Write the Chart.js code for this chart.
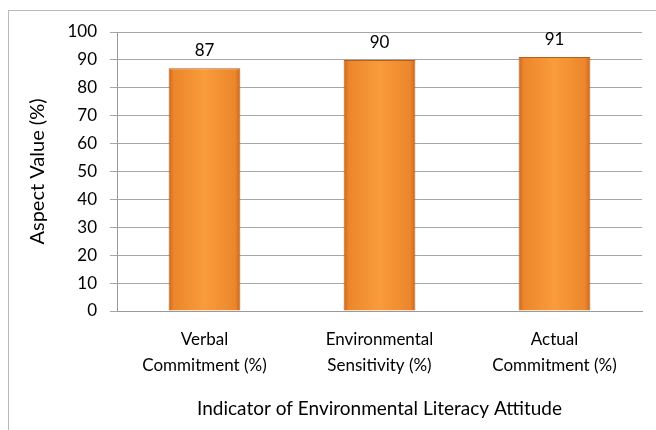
<!DOCTYPE html>
<html>
<head>
<meta charset="utf-8">
<script src="https://cdn.jsdelivr.net/npm/chart.js@4/dist/chart.umd.min.js"></script>
<style>
  html, body { margin: 0; padding: 0; background: #fff; }
  #wrap { position: relative; width: 656px; height: 430px; }
  #frame { position: absolute; left: 8px; top: 10px; width: 660px; height: 430px;
           border-left: 1px solid #b8b8b8; border-top: 1px solid #b8b8b8; }
  canvas { position: absolute; left: 0; top: 0; }
</style>
</head>
<body>
<div id="wrap">
  <div id="frame"></div>
  <canvas id="aspectChart" width="656" height="430"></canvas>
</div>
<script>
const categories = [
    ['Verbal', 'Commitment (%)'],
    ['Environmental', 'Sensitivity (%)'],
    ['Actual', 'Commitment (%)']
]
const values = [87, 90, 91]
const yTicks = [0, 10, 20, 30, 40, 50, 60, 70, 80, 90, 100]

const FONT = 'Lato, "Open Sans", sans-serif'
const barPct = 0.41

// orange bar, darker at the edges
function barFill(ctx) {
    const chart = ctx.chart
    const xs = chart.scales.x
    if (!xs || !chart.chartArea) return '#F7962E'
    const cx = xs.getPixelForValue(ctx.dataIndex)
    const w = (xs.width / categories.length) * barPct
    const g = chart.ctx.createLinearGradient(cx - w / 2, 0, cx + w / 2, 0)
    g.addColorStop(0, '#C9671C')
    g.addColorStop(0.07, '#EC862C')
    g.addColorStop(0.5, '#F99C3A')
    g.addColorStop(0.93, '#EC862C')
    g.addColorStop(1, '#C9671C')
    return g
}

const valueLabels = {
    id: 'valueLabels',
    afterDatasetsDraw(chart) {
        const c = chart.ctx
        const meta = chart.getDatasetMeta(0)
        c.save()
        c.font = '17px ' + FONT
        c.fillStyle = '#000'
        c.textAlign = 'center'
        c.textBaseline = 'bottom'
        meta.data.forEach((bar, i) => {
            c.fillText(values[i], bar.x, bar.y - 9)
        })
        c.restore()
    }
}

const ctx = document.getElementById('aspectChart').getContext('2d')
const aspectChart = new Chart(ctx, {
    type: 'bar',
    data: {
        labels: categories,
        datasets: [{
            data: values,
            backgroundColor: barFill,
            borderColor: '#B85E18',
            borderWidth: 1,
            categoryPercentage: 1,
            barPercentage: barPct
        }]
    },
    options: {
        responsive: false,
        animation: false,
        layout: {
            padding: { left: 0, right: 14, top: 32, bottom: 0 }
        },
        plugins: {
            legend: { display: false },
            tooltip: { enabled: false }
        },
        scales: {
            x: {
                grid: { display: false },
                border: { display: true, color: '#9a9a9a', width: 1 },
                ticks: {
                    color: '#000',
                    padding: 8,
                    font: { family: FONT, size: 17, lineHeight: 1.5 }
                },
                title: {
                    display: true,
                    text: 'Indicator of Environmental Literacy Attitude',
                    color: '#000',
                    font: { family: FONT, size: 19 },
                    padding: { top: 10, bottom: 10 }
                },
                afterFit(scale) { scale.height = 119 }
            },
            y: {
                min: 0,
                max: 100,
                afterBuildTicks(scale) {
                    scale.ticks = yTicks.map(v => ({ value: v }))
                },
                grid: {
                    color: '#a6a6a6',
                    lineWidth: 1,
                    drawTicks: true,
                    tickLength: 7
                },
                border: { display: true, color: '#9a9a9a', width: 1 },
                ticks: {
                    color: '#000',
                    padding: 13,
                    font: { family: FONT, size: 17 }
                },
                title: {
                    display: true,
                    text: 'Aspect Value (%)',
                    color: '#000',
                    font: { family: FONT, size: 20 },
                    padding: { top: 26, bottom: 0 }
                },
                afterFit(scale) { scale.width = 117 }
            }
        }
    },
    plugins: [valueLabels]
})
</script>
</body>
</html>
